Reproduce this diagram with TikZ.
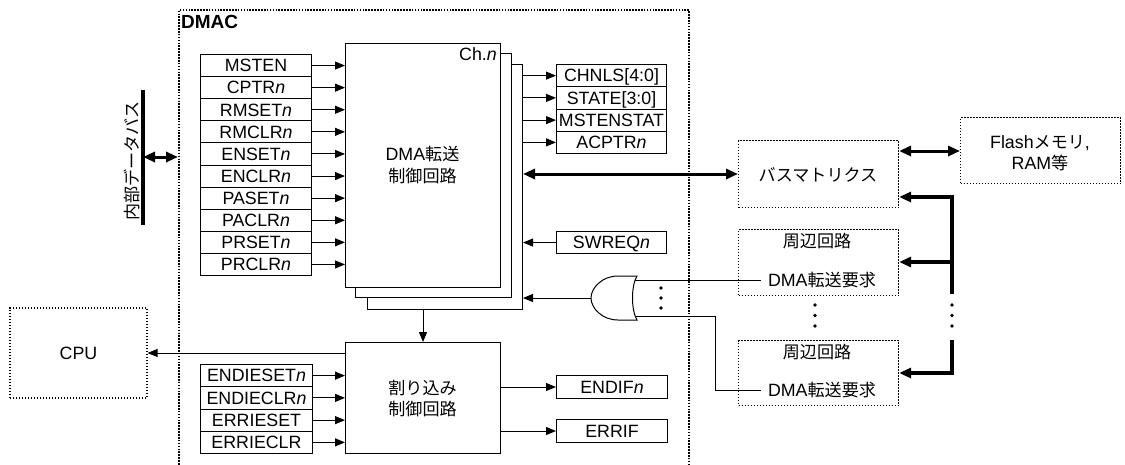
\documentclass[tikz,border=0pt]{standalone}
\usepackage{fontspec}
\setmainfont{Liberation Sans}
\newfontfamily\jp[Scale=0.96]{Noto Sans CJK JP}
\usetikzlibrary{arrows.meta}
\begin{document}
\begin{tikzpicture}[x=1pt,y=-1pt,
  fnt/.style={font=\fontsize{17.8}{22}\selectfont},
  txt/.style={fnt, inner sep=0pt, text height=12.6pt, text depth=0pt},
  reg/.style={txt, draw, line width=1pt, fill=white, minimum height=22.1pt, anchor=north west},
  blk/.style={draw, line width=1pt, fill=white, anchor=north west, inner sep=0pt},
  dbox/.style={draw, line width=1.1pt, dash pattern=on 1.4pt off 1.6pt, anchor=north west, inner sep=0pt},
  arr/.style={line width=1pt, -{Triangle[length=10pt,width=8pt]}},
  barr/.style={line width=3pt, {Triangle[length=12pt,width=10pt]}-{Triangle[length=12pt,width=10pt]}},
  busarr/.style={line width=4pt, -{Triangle[length=12pt,width=10pt]}},
  smalldot/.style={circle, fill, inner sep=0pt, minimum size=3.8pt},
]
\useasboundingbox (0,0) rectangle (1125,464);
\fill[white] (0,0) rectangle (1125,464);

% DMAC boundary
\node[draw, line width=2.2pt, dash pattern=on 1.6pt off 1.3pt, anchor=north west,
      minimum width=510pt, minimum height=470pt, inner sep=0pt] (dmac) at (178,9) {};
\node[font=\fontsize{19}{22}\selectfont\bfseries, inner sep=0pt, anchor=base west] (dmaclbl) at (181,28.5) {DMAC};

% internal data bus
\coordinate (ibtop) at (143,90);
\coordinate (ibbot) at (143,225);
\draw[line width=4pt] (ibtop) -- (ibbot);
\coordinate (ib) at (143,157);
\node[fnt, rotate=90, inner sep=0pt] (iblbl) at (132,161) {\jp 内部データバス};
\draw[barr] (ib) -- (ib -| dmac.west);

% DMA transfer control blocks (stacked)
\node[blk, minimum width=155pt, minimum height=245pt] (dma3) at (367,64) {};
\node[blk, minimum width=156pt, minimum height=244pt] (dma2) at (355,53) {};
\node[blk, minimum width=155pt, minimum height=244pt] (dma) at (345,43) {};
\node[txt, anchor=base east] (chn) at (497,60) {Ch.\textit{n}};
\node[txt] (dmat1) at (422.5,154) {DMA{\jp 転送}};
\node[txt] (dmat2) at (422.5,176) {\jp 制御回路};

% input registers
\foreach \t [count=\i from 0] in {MSTEN,CPTR\textit{n},RMSET\textit{n},RMCLR\textit{n},ENSET\textit{n},ENCLR\textit{n},PASET\textit{n},PACLR\textit{n},PRSET\textit{n},PRCLR\textit{n}}{
  \node[reg, minimum width=111pt] (r\i) at (200,54+22.1*\i) {\t};
  \draw[arr] (r\i.east) -- (r\i.east -| dma.west);
}

% output registers
\foreach \t [count=\i from 0] in {CHNLS[4:0],STATE[3:0],MSTENSTAT,ACPTR\textit{n}}{
  \node[reg, minimum width=110pt, minimum height=22.25pt] (o\i) at (556,64+22.25*\i) {\t};
  \draw[arr] (o\i.west -| dma3.east) -- (o\i.west);
}

% SWREQ
\node[reg, minimum width=110pt] (sw) at (556,231) {SWREQ\textit{n}};
\draw[arr] (sw.west) -- (sw.west -| dma3.east);

% bus matrix, memory
\node[dbox, minimum width=160pt, minimum height=67pt] (bm) at (738,140) {};
\node[txt] (bmt) at (818,175) {\jp バスマトリクス};
\node[dbox, minimum width=160pt, minimum height=66pt] (fl) at (960,117) {};
\node[txt] (flt1) at (1040,142) {Flash{\jp メモリ},};
\node[txt] (flt2) at (1040,163) {RAM{\jp 等}};
\draw[barr] (dma3.east |- 0,174) -- (bm.west |- 0,174);
\draw[barr] (bm.east |- 0,151) -- (fl.west |- 0,151);

% peripherals
\node[dbox, minimum width=160pt, minimum height=66pt] (p1) at (738,229) {};
\node[txt] (p1t) at (817,241) {\jp 周辺回路};
\node[txt] (req1) at (822,280) {DMA{\jp 転送要求}};
\node[dbox, minimum width=160pt, minimum height=65pt] (p2) at (738,340) {};
\node[txt] (p2t) at (817,352) {\jp 周辺回路};
\node[txt] (req2) at (822,390) {DMA{\jp 転送要求}};
\foreach \y in {305,315.5,326}{
  \node[smalldot] at (815,\y) {};
  \node[smalldot] at (952,\y) {};
}

% right bus
\coordinate (rb1) at (952,294);
\coordinate (rb2) at (952,262);
\coordinate (rb3) at (952,340);
\draw[busarr] (rb1) |- (bm.east |- 0,197);
\draw[busarr] (rb2) -- (p1.east |- rb2);
\draw[busarr] (rb3) |- (p2.east |- 0,373);

% OR gate
\coordinate (orout) at (591,298);
\coordinate (orin1) at (635,280);
\coordinate (orin2) at (635,316);
\draw[line width=1pt, fill=white] (637,276) -- (618,276) .. controls (602,276) and (591,288) .. (orout)
  .. controls (591,308) and (602,320) .. (618,320) -- (637,320)
  .. controls (631,310) and (631,286) .. (637,276) -- cycle;
\draw[arr] (orout) -- (orout -| dma3.east);
\foreach \y in {288,298,308}{ \node[smalldot] at (661,\y) {}; }
\draw[line width=1pt] (orin1) -- ([xshift=-7pt]req1.west);
\draw[line width=1pt] (orin2) -- (715,316) |- ([xshift=-7pt]req2.west);

% interrupt controller
\node[blk, minimum width=155pt, minimum height=111pt] (intc) at (345,342) {};
\node[txt] (intt1) at (422.5,388) {\jp 割り込み};
\node[txt] (intt2) at (422.5,409.5) {\jp 制御回路};
\draw[arr] (intc.north |- dma3.south) -- (intc.north);

\foreach \t [count=\i from 0] in {ENDIESET\textit{n},ENDIECLR\textit{n},ERRIESET,ERRIECLR}{
  \node[reg, minimum width=112pt, minimum height=22.25pt] (e\i) at (200,364+22.25*\i) {\t};
  \draw[arr] (e\i.east) -- (e\i.east -| intc.west);
}
\node[reg, minimum width=111pt, minimum height=23pt] (endif) at (556,375) {ENDIF\textit{n}};
\node[reg, minimum width=111pt, minimum height=23pt] (errif) at (556,419) {ERRIF};
\draw[arr] (intc.east |- endif.west) -- (endif.west);
\draw[arr] (intc.east |- errif.west) -- (errif.west);

% CPU
\node[dbox, anchor=center, minimum width=137pt, minimum height=90pt, txt] (cpu) at (78.5,353) {CPU};
\draw[arr] (cpu.east -| intc.west) -- (cpu.east);
\end{tikzpicture}
\end{document}
